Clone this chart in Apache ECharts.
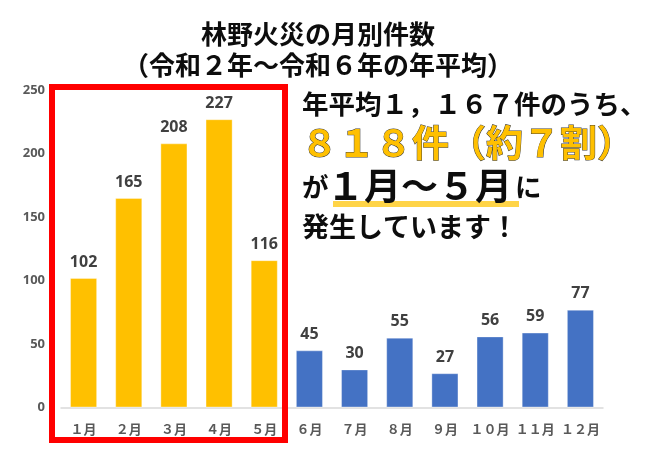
<!DOCTYPE html>
<html>
<head>
<meta charset="utf-8">
<script src="https://cdn.jsdelivr.net/npm/echarts@6/dist/echarts.min.js"></script>
<style>
  html, body { margin: 0; padding: 0; background: #fff; }
  #chart { width: 647px; height: 452px; }
</style>
</head>
<body>
<div id="chart"></div>
<script>
const months = ['１月','２月','３月','４月','５月','６月','７月','８月','９月','１０月','１１月','１２月'];
const counts = [102, 165, 208, 227, 116, 45, 30, 55, 27, 56, 59, 77];
const highlightedMonths = 5;
const titleLines = ['林野火災の月別件数', '（令和２年～令和６年の年平均）'];
const noteLine1 = '年平均１，１６７件のうち、';
const noteLine2 = '８１８件（約７割）';
const noteLine3a = 'が';
const noteLine3b = '１月～５月';
const noteLine3c = 'に';
const noteLine4 = '発生しています！';

const JP = "'Noto Sans CJK JP', 'Noto Sans', sans-serif";
const YELLOW = '#FFC000';
const BLUE = '#4472C4';

const chart = echarts.init(document.getElementById('chart'));
chart.setOption({
  animation: false,
  backgroundColor: '#ffffff',
  title: {
    text: titleLines.join('\n'),
    left: 313,
    textAlign: 'center',
    top: 14,
    textStyle: { fontFamily: JP, fontSize: 26, fontWeight: 'bold', color: '#0d0d0d', lineHeight: 31 }
  },
  grid: { left: 61, right: 44, top: 90, bottom: 44.5 },
  xAxis: {
    type: 'category',
    data: months,
    axisLine: { lineStyle: { color: '#D9D9D9', width: 1.5 } },
    axisTick: { show: false },
    axisLabel: { fontFamily: JP, fontSize: 13, fontWeight: 'bold', color: '#595959', margin: 15, interval: 0 }
  },
  yAxis: {
    type: 'value',
    min: 0, max: 250, interval: 50,
    splitLine: { show: false },
    axisLine: { show: false },
    axisTick: { show: false },
    axisLabel: { fontFamily: "'Noto Sans', sans-serif", fontSize: 13, fontWeight: 'bold', color: '#595959', margin: 16 }
  },
  series: [{
    type: 'bar',
    barCategoryGap: '40%',
    data: counts.map((v, i) => ({ value: v, itemStyle: { color: i < highlightedMonths ? YELLOW : BLUE } })),
    itemStyle: { borderColor: 'rgba(255,255,255,0.35)', borderWidth: 1 },
    label: {
      show: true, position: 'top', distance: 8,
      fontFamily: "'Noto Sans', sans-serif", fontSize: 16, fontWeight: 'bold', color: '#404040'
    }
  }],
  graphic: [
    { type: 'rect', shape: { x: 52, y: 87, width: 233, height: 353 },
      style: { fill: 'none', stroke: '#FF0000', lineWidth: 6 }, z: 100 },
    { type: 'rect', shape: { x: 333, y: 201, width: 186, height: 6 },
      style: { fill: '#FFD447' }, z: 90 },
    { type: 'text', x: 302, y: 104, z: 100,
      style: { text: noteLine1, fontFamily: JP, fontSize: 26.5, fontWeight: 'bold', fill: '#0d0d0d', verticalAlign: 'middle' } },
    { type: 'text', x: 301, y: 143, z: 100,
      style: { text: noteLine2, fontFamily: JP, fontSize: 37, fontWeight: 'bold', fill: YELLOW, stroke: '#3a3a3a', lineWidth: 1, verticalAlign: 'middle' } },
    { type: 'text', x: 302, y: 187, z: 100,
      style: { text: noteLine3a, fontFamily: JP, fontSize: 26.5, fontWeight: 'bold', fill: '#0d0d0d', verticalAlign: 'middle' } },
    { type: 'text', x: 327, y: 186, z: 100,
      style: { text: noteLine3b, fontFamily: JP, fontSize: 37, fontWeight: 'bold', fill: '#0d0d0d', verticalAlign: 'middle' } },
    { type: 'text', x: 515, y: 187, z: 100,
      style: { text: noteLine3c, fontFamily: JP, fontSize: 26.5, fontWeight: 'bold', fill: '#0d0d0d', verticalAlign: 'middle' } },
    { type: 'text', x: 302, y: 227, z: 100,
      style: { text: noteLine4, fontFamily: JP, fontSize: 27, fontWeight: 'bold', fill: '#0d0d0d', verticalAlign: 'middle' } }
  ]
});
</script>
</body>
</html>
